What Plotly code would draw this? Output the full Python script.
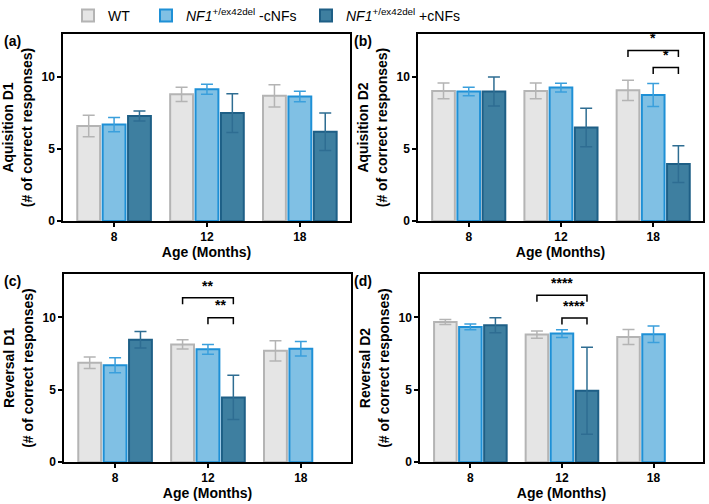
import plotly.graph_objects as go

ages = ["8", "12", "18"]
groups = ["WT", "<i>NF1</i><sup>+/ex42del</sup> -cNFs", "<i>NF1</i><sup>+/ex42del</sup> +cNFs"]

# panel values: [WT, -cNFs, +cNFs] per age, with SEM
acq_d1 = [[6.6, 8.8, 8.7], [6.7, 9.15, 8.65], [7.3, 7.5, 6.2]]
acq_d1_err = [[0.75, 0.5, 0.77], [0.5, 0.35, 0.37], [0.35, 1.35, 1.3]]
acq_d2 = [[9.04, 9.04, 9.08], [9.0, 9.27, 8.76], [9.0, 6.5, 3.96]]
acq_d2_err = [[0.55, 0.55, 0.7], [0.3, 0.3, 0.8], [1.0, 1.33, 1.28]]
rev_d1 = [[6.87, 8.13, 7.69], [6.69, 7.79, 7.83], [8.45, 4.47, None]]
rev_d1_err = [[0.4, 0.32, 0.7], [0.52, 0.34, 0.5], [0.57, 1.53, None]]
rev_d2 = [[9.68, 8.81, 8.65], [9.34, 8.88, 8.84], [9.45, 4.93, None]]
rev_d2_err = [[0.18, 0.25, 0.52], [0.2, 0.27, 0.57], [0.52, 3.0, None]]

# significance brackets: (age index, from group, to group, bracket y, label)
sig_b = [(2, 0, 2, 11.85, "*"), (2, 1, 2, 10.66, "*")]
sig_c = [(1, 0, 2, 11.35, "**"), (1, 1, 2, 9.98, "**")]
sig_d = [(1, 0, 2, 11.53, "****"), (1, 1, 2, 9.95, "****")]

fills = ["#e5e5e5", "#80c0e4", "#3e7fa0"]
borders = ["#b4b4b4", "#1e90d6", "#1e5f86"]
errcols = ["#b4b4b4", "#3a9fdc", "#2e6d92"]

panels = [
    ("Aquisition D1<br>(# of correct responses)", acq_d1, acq_d1_err, [], "(a)"),
    ("Aquisition D2<br>(# of correct responses)", acq_d2, acq_d2_err, sig_b, "(b)"),
    ("Reversal D1<br>(# of correct responses)", rev_d1, rev_d1_err, sig_c, "(c)"),
    ("Reversal D2<br>(# of correct responses)", rev_d2, rev_d2_err, sig_d, "(d)"),
]

# pixel layout of the page (body margin removed below)
W, H = 709, 504
boxes = [(63, 350, 32, 220), (418, 703, 32, 220), (64, 351, 273, 462), (420, 703, 273, 462)]
label_pos = [(2, 39), (352, 39), (2, 280), (352, 280)]
legend_x = [68, 146, 306]


def px(x):
    return x / W


def py(y):
    return 1 - y / H


bargap = 0.18
slot = (1 - bargap) / 3
font = "Arial, Liberation Sans, sans-serif"

fig = go.Figure()
shapes = []
annots = []
for p, (ytitle, vals, errs, sigs, lab) in enumerate(panels):
    xa = "x" if p == 0 else f"x{p+1}"
    ya = "y" if p == 0 else f"y{p+1}"
    for g in range(3):
        fig.add_trace(go.Bar(
            x=list(range(3)), y=vals[g], name=groups[g],
            xaxis=xa, yaxis=ya, showlegend=(p == 0),
            legend="legend" if g == 0 else f"legend{g+1}",
            marker=dict(color=fills[g], line=dict(color=borders[g], width=2)),
            error_y=dict(type="data", array=errs[g], color=errcols[g], thickness=1.5, width=6),
        ))
    x0, x1, y0, y1 = boxes[p]
    key = "" if p == 0 else str(p + 1)
    fig.layout["xaxis" + key] = dict(
        domain=[px(x0), px(x1)], anchor=ya, range=[-0.55, 2.54], automargin=False,
        tickvals=[0, 1, 2], ticktext=ages, ticks="outside", ticklen=4, tickwidth=1.5,
        tickcolor="black", showline=True, linecolor="black", linewidth=1.5, mirror=True,
        showgrid=False, zeroline=False,
        tickfont=dict(size=12, family=font, color="black", weight="bold"),
        title=dict(text="Age (Months)", font=dict(size=14, family=font, color="black", weight="bold"), standoff=4),
    )
    fig.layout["yaxis" + key] = dict(
        domain=[py(y1), py(y0)], anchor=xa, range=[0, 13], automargin=False,
        tickvals=[0, 5, 10], ticks="outside", ticklen=4, tickwidth=1.5, tickcolor="black",
        showline=True, linecolor="black", linewidth=1.5, mirror=True,
        showgrid=False, zeroline=False,
        tickfont=dict(size=12, family=font, color="black", weight="bold"),
        title=dict(text=ytitle, font=dict(size=14, family=font, color="black", weight="bold"), standoff=6),
    )
    for (ai, ga, gb, by, txt) in sigs:
        xa0 = ai + (ga - 1) * slot
        xb0 = ai + (gb - 1) * slot
        shapes.append(dict(type="path", xref=xa, yref=ya,
                           path=f"M {xa0},{by-0.45} L {xa0},{by} L {xb0},{by} L {xb0},{by-0.45}",
                           line=dict(color="black", width=1.5)))
        annots.append(dict(x=(xa0 + xb0) / 2, y=by + 0.15, xref=xa, yref=ya, text=txt,
                           showarrow=False, yanchor="bottom",
                           font=dict(size=14, family=font, color="black", weight="bold")))
    lx, ly = label_pos[p]
    annots.append(dict(x=px(lx), y=py(ly), xref="paper", yref="paper", text=lab,
                       showarrow=False, xanchor="left", yanchor="middle",
                       font=dict(size=14, family=font, color="black", weight="bold")))

legend_style = dict(orientation="h", yanchor="middle", xanchor="left", y=py(14),
                    font=dict(size=14, family=font, color="black"), itemwidth=30,
                    bgcolor="rgba(0,0,0,0)")
fig.update_layout(
    width=W, height=H, barmode="group", bargap=bargap, bargroupgap=0.1,
    margin=dict(l=0, r=0, t=0, b=0),
    plot_bgcolor="white", paper_bgcolor="white",
    shapes=shapes, annotations=annots,
    legend=dict(x=px(legend_x[0]), **legend_style),
    legend2=dict(x=px(legend_x[1]), **legend_style),
    legend3=dict(x=px(legend_x[2]), **legend_style),
)

fig.write_html("out.html", config={"displayModeBar": False},
               post_script="document.body.style.margin = '0';")
